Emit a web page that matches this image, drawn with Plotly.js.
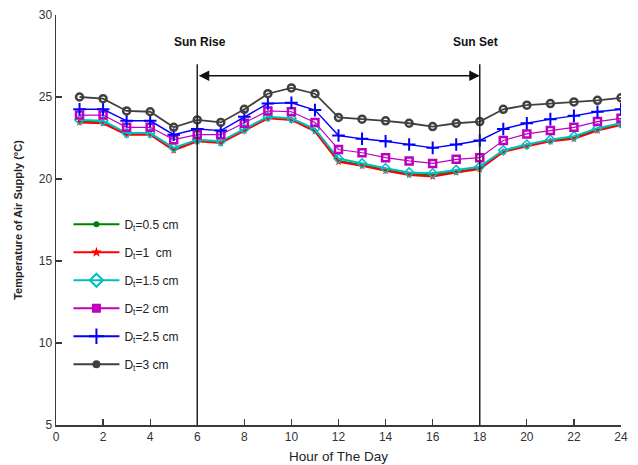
<!DOCTYPE html>
<html>
<head>
<meta charset="utf-8">
<script src="https://cdn.plot.ly/plotly-3.0.1.min.js"></script>
<style>
  html, body { margin: 0; padding: 0; background: #fff; }
  #chart { width: 638px; height: 465px; }
</style>
</head>
<body>
<div id="chart"></div>
<script>
// Hour of the day
const hours = [1,2,3,4,5,6,7,8,9,10,11,12,13,14,15,16,17,18,19,20,21,22,23,24];

// Supply air temperature (°C) for each tube diameter
const dt05 = [23.5,23.45,22.75,22.75,21.8,22.35,22.25,23.0,23.75,23.65,22.95,21.1,20.85,20.55,20.3,20.25,20.45,20.65,21.7,22.05,22.35,22.5,23.0,23.35];
const dt10 = [23.45,23.4,22.7,22.7,21.75,22.3,22.2,22.95,23.7,23.6,22.9,21.05,20.8,20.5,20.25,20.15,20.4,20.6,21.65,22.0,22.3,22.45,22.95,23.3];
const dt15 = [23.6,23.55,22.8,22.8,21.9,22.4,22.3,23.05,23.8,23.7,23.05,21.25,20.95,20.65,20.4,20.35,20.55,20.75,21.75,22.1,22.4,22.6,23.1,23.4];
const dt20 = [23.9,23.9,23.15,23.15,22.4,22.7,22.7,23.4,24.15,24.1,23.45,21.8,21.6,21.3,21.1,20.95,21.2,21.3,22.35,22.75,22.95,23.15,23.5,23.7];
const dt25 = [24.25,24.25,23.55,23.55,22.7,23.05,22.95,23.8,24.6,24.65,24.2,22.65,22.45,22.3,22.1,21.9,22.1,22.35,23.05,23.4,23.65,23.85,24.1,24.25];
const dt30 = [25.0,24.9,24.15,24.1,23.15,23.6,23.45,24.25,25.2,25.55,25.2,23.75,23.65,23.55,23.4,23.2,23.4,23.5,24.25,24.5,24.6,24.7,24.8,24.95];

const seriesNames = ['D<sub>t</sub>=0.5 cm','D<sub>t</sub>=1  cm','D<sub>t</sub>=1.5 cm','D<sub>t</sub>=2 cm','D<sub>t</sub>=2.5 cm','D<sub>t</sub>=3 cm'];
const seriesData = [dt05, dt10, dt15, dt20, dt25, dt30];

// Sunrise / sunset hours and the labels above them
const sunHours = [6, 18];
const sunLabels = ['Sun Rise', 'Sun Set'];

const xTicks = [0,2,4,6,8,10,12,14,16,18,20,22,24];
const yTicks = [5,10,15,20,25,30];

// Styles per series: plotted marker, legend marker
const styles = [
  {color:'#008000', width:2,   sym:'circle',          size:4,  lw:0,   legSym:'circle',         legSize:6,  legLw:0},
  {color:'#ff0000', width:2,   sym:'star',            size:6,  lw:0,   legSym:'star',           legSize:8,  legLw:0},
  {color:'#00bfbf', width:2,   sym:'diamond-open',    size:7,  lw:1.5, legSym:'diamond-open',   legSize:10, legLw:2},
  {color:'#bf00bf', width:1.2, sym:'square-open',     size:7,  lw:2.5, legSym:'square',         legSize:9,  legLw:0},
  {color:'#0000ff', width:1.4, sym:'cross-thin-open', size:9,  lw:2,   legSym:'cross-thin-open',legSize:11, legLw:2},
  {color:'#404040', width:1.8, sym:'circle-open',     size:7,  lw:2.5, legSym:'circle',         legSize:8,  legLw:0}
];

const traces = [];
seriesData.forEach((ys, i) => {
  const s = styles[i];
  traces.push({
    x: hours, y: ys, type: 'scatter', mode: 'lines+markers',
    name: seriesNames[i], showlegend: false,
    line: {color: s.color, width: s.width},
    marker: {symbol: s.sym, size: s.size, color: s.color, line: {color: s.color, width: s.lw}}
  });
});
// legend entries
seriesData.forEach((ys, i) => {
  const s = styles[i];
  traces.push({
    x: [null], y: [null], type: 'scatter', mode: 'lines+markers',
    name: seriesNames[i], legendgroup: 'g' + i, showlegend: true,
    line: {color: s.color, width: 2},
    marker: {symbol: s.legSym, size: s.legSize, color: s.color, line: {color: s.color, width: s.legLw}}
  });
});

const axisColor = '#3a3a3a';
const font = 'Arial, "Liberation Sans", sans-serif';

const shapes = sunHours.map(h => ({
  type: 'line', xref: 'x', yref: 'y', x0: h, x1: h, y0: 5, y1: 27,
  line: {color: '#222', width: 1.5}
}));

const annotations = [
  {
    xref: 'x', yref: 'y', axref: 'x', ayref: 'y',
    x: sunHours[1], y: 26.3, ax: sunHours[0], ay: 26.3,
    text: '', showarrow: true, arrowhead: 2, arrowside: 'end+start',
    arrowsize: 1.4, arrowwidth: 1.5, arrowcolor: '#111', standoff: 0, startstandoff: 0
  }
].concat(sunHours.map((h, i) => ({
  xref: 'x', yref: 'y', x: h + (i === 1 ? -0.2 : 0.1), y: 28.35,
  text: '<b>' + sunLabels[i] + '</b>', showarrow: false,
  font: {family: font, size: 12, color: '#111'}
})));

const layout = {
  width: 638, height: 465,
  margin: {l: 56, r: 17, t: 15, b: 40},
  paper_bgcolor: '#fff', plot_bgcolor: '#fff',
  font: {family: font, color: '#333'},
  showlegend: true,
  legend: {
    x: 0.022, y: 0.525, xanchor: 'left', yanchor: 'top',
    bgcolor: 'rgba(0,0,0,0)', borderwidth: 0,
    font: {family: font, size: 12, color: '#222'},
    traceorder: 'grouped', tracegroupgap: 9, itemwidth: 46
  },
  xaxis: {
    range: [0, 24], tickvals: xTicks, ticktext: xTicks.map(String),
    ticks: 'inside', ticklen: 6, tickwidth: 1.3, tickcolor: axisColor,
    showline: true, linecolor: axisColor, linewidth: 1.5, mirror: false,
    showgrid: false, zeroline: false,
    tickfont: {family: font, size: 12, color: '#333'},
    title: {text: 'Hour of The Day', font: {family: font, size: 13.5, color: '#222'}, standoff: 8},
    automargin: false
  },
  yaxis: {
    range: [5, 30], tickvals: yTicks, ticktext: yTicks.map(String),
    ticks: 'inside', ticklen: 6, tickwidth: 1.3, tickcolor: axisColor,
    showline: true, linecolor: axisColor, linewidth: 1.5, mirror: false,
    showgrid: false, zeroline: false,
    tickfont: {family: font, size: 12, color: '#333'},
    title: {text: '<b>Temperature of Air Supply (°C)</b>', font: {family: font, size: 11, color: '#222'}, standoff: 14},
    automargin: false
  },
  shapes: shapes,
  annotations: annotations
};

Plotly.newPlot('chart', traces, layout, {displayModeBar: false, staticPlot: true});
</script>
</body>
</html>
